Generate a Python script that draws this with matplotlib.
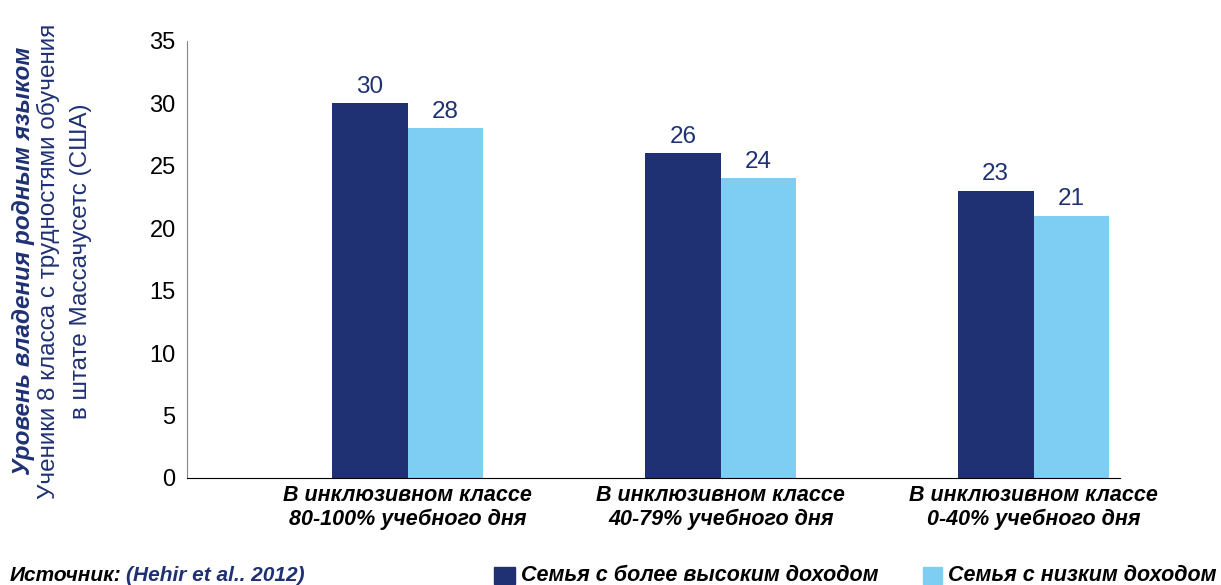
import matplotlib.pyplot as plt
import numpy as np
from matplotlib.patches import Rectangle

plt.rcParams['font.family'] = ['Liberation Sans', 'DejaVu Sans']

categories = ['В инклюзивном классе\n80-100% учебного дня',
              'В инклюзивном классе\n40-79% учебного дня',
              'В инклюзивном классе\n0-40% учебного дня']
high_income = [30, 26, 23]
low_income = [28, 24, 21]
series_names = ['Семья с более высоким доходом', 'Семья с низким доходом']
yticks = [0, 5, 10, 15, 20, 25, 30, 35]

navy = '#1f3173'
light = '#7dcef2'

fig = plt.figure(figsize=(12.21, 5.85), dpi=100)
ax = fig.add_axes([0.153, 0.183, 0.764, 0.747])

x = np.arange(len(categories))
w = 0.242
b1 = ax.bar(x - w / 2, high_income, w, color=navy)
b2 = ax.bar(x + w / 2, low_income, w, color=light)
for bars in (b1, b2):
    ax.bar_label(bars, padding=4, fontsize=17.5, color=navy)

ax.set_xlim(-0.706, 2.275)
ax.set_ylim(0, 35)
ax.set_yticks(yticks)
ax.tick_params(axis='y', length=0, labelsize=17, pad=8)
ax.set_xticks(x)
ax.set_xticklabels(categories, fontsize=15.5, fontweight='bold', fontstyle='italic',
                   linespacing=1.2)
ax.tick_params(axis='x', length=0, pad=5)
for s in ('top', 'right'):
    ax.spines[s].set_visible(False)
ax.spines['left'].set_color('#888888')
ax.spines['bottom'].set_color('black')

# vertical axis caption, three centred lines
fig.text(0.019, 0.554, 'Уровень владения родным языком', rotation=90,
         ha='center', va='center', fontsize=17.5, fontweight='bold',
         fontstyle='italic', color=navy)
fig.text(0.040, 0.554, 'Ученики 8 класса с трудностями обучения', rotation=90,
         ha='center', va='center', fontsize=17.5, color=navy)
fig.text(0.066, 0.554, 'в штате Массачусетс (США)', rotation=90,
         ha='center', va='center', fontsize=17.5, color=navy)

# source line
fig.text(0.008, 0.006, 'Источник:', fontsize=15, fontweight='bold',
         fontstyle='italic', color='black', va='baseline')
fig.text(0.103, 0.006, '(Hehir et al.. 2012)', fontsize=15, fontweight='bold',
         fontstyle='italic', color=navy, va='baseline')

# legend
for xr, wr, name, col in ((0.4046, 0.0172, series_names[0], navy),
                          (0.756, 0.0156, series_names[1], light)):
    fig.patches.append(Rectangle((xr, 0.0017), wr, 0.029, transform=fig.transFigure,
                                 color=col))
    fig.text(xr + wr + 0.005, 0.006, name, fontsize=15.5, fontweight='bold',
             fontstyle='italic', color='black', va='baseline')

fig.savefig('out.png', dpi=100)
